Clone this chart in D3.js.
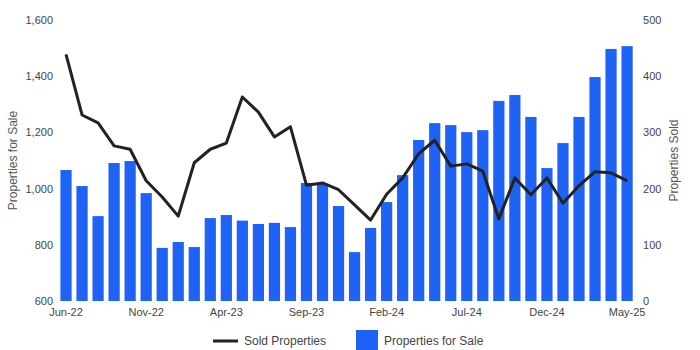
<!DOCTYPE html>
<html>
<head>
<meta charset="utf-8">
<script src="https://cdn.jsdelivr.net/npm/d3@7"></script>
<style>
  html, body { margin: 0; padding: 0; background: #fff; }
  svg { display: block; font-family: "Liberation Sans", Arial, sans-serif; }
</style>
</head>
<body>
<svg id="chart" width="700" height="350"></svg>
<script>
// Monthly listings vs. sales, Jun-22 to May-25
const months = [
  "Jun-22","Jul-22","Aug-22","Sep-22","Oct-22","Nov-22","Dec-22","Jan-23","Feb-23","Mar-23",
  "Apr-23","May-23","Jun-23","Jul-23","Aug-23","Sep-23","Oct-23","Nov-23","Dec-23","Jan-24",
  "Feb-24","Mar-24","Apr-24","May-24","Jun-24","Jul-24","Aug-24","Sep-24","Oct-24","Nov-24",
  "Dec-24","Jan-25","Feb-25","Mar-25","Apr-25","May-25"
];
const propertiesForSale = [
  1066, 1009, 902, 1091, 1098, 984, 789, 810, 792, 895,
  906, 886, 874, 878, 863, 1020, 1016, 938, 774, 860,
  952, 1048, 1173, 1233, 1226, 1201, 1208, 1312, 1333, 1255,
  1073, 1162, 1255, 1397, 1497, 1507
];
const soldProperties = [
  439, 331, 317, 276, 270, 214, 185, 151, 246, 270,
  281, 363, 336, 292, 310, 206, 210, 198, 171, 144,
  190, 219, 262, 286, 240, 244, 231, 146, 219, 189,
  219, 174, 205, 230, 228, 214
];
const xTickLabels = ["Jun-22","Nov-22","Apr-23","Sep-23","Feb-24","Jul-24","Dec-24","May-25"];
const leftTicks = [600, 800, 1000, 1200, 1400, 1600];
const rightTicks = [0, 100, 200, 300, 400, 500];

const barColor = "#1f63f6";
const lineColor = "#222222";
const textColor = "#444444";

const svg = d3.select("#chart");
const plotTop = 20, plotBottom = 301, plotLeft = 58, plotRight = 635.1;

const x = d3.scaleBand().domain(months).range([plotLeft, plotRight]).paddingInner(0.3).paddingOuter(0.15);
const yL = d3.scaleLinear().domain([600, 1600]).range([plotBottom, plotTop]);
const yR = d3.scaleLinear().domain([0, 500]).range([plotBottom, plotTop]);

// bars
svg.append("g").selectAll("rect")
  .data(months)
  .join("rect")
  .attr("x", d => x(d))
  .attr("width", x.bandwidth())
  .attr("y", (d, i) => yL(propertiesForSale[i]))
  .attr("height", (d, i) => yL(600) - yL(propertiesForSale[i]))
  .attr("fill", barColor);

// sold line
const line = d3.line()
  .x((d, i) => x(months[i]) + x.bandwidth() / 2)
  .y(d => yR(d));
svg.append("path")
  .datum(soldProperties)
  .attr("d", line)
  .attr("fill", "none")
  .attr("stroke", lineColor)
  .attr("stroke-width", 3)
  .attr("stroke-linejoin", "round");

function styleAxis(g) {
  g.select(".domain").remove();
  g.selectAll(".tick line").remove();
  g.selectAll("text").attr("fill", textColor).style("font-size", "11px")
    .style("font-family", "'Liberation Sans', Arial, sans-serif");
}

svg.append("g")
  .attr("transform", `translate(${plotLeft - 5},0)`)
  .call(d3.axisLeft(yL).tickValues(leftTicks).tickFormat(d3.format(",")).tickSize(0).tickPadding(0))
  .call(styleAxis);

svg.append("g")
  .attr("transform", `translate(${plotRight + 8},0)`)
  .call(d3.axisRight(yR).tickValues(rightTicks).tickSize(0).tickPadding(0))
  .call(styleAxis);

svg.append("g")
  .attr("transform", `translate(0,${plotBottom + 3})`)
  .call(d3.axisBottom(x).tickValues(xTickLabels).tickSize(0).tickPadding(4))
  .call(styleAxis);

// axis titles
svg.append("text")
  .attr("transform", `translate(17,${(plotTop + plotBottom) / 2}) rotate(-90)`)
  .attr("text-anchor", "middle")
  .attr("fill", "#555")
  .style("font-size", "12px")
  .text("Properties for Sale");

svg.append("text")
  .attr("transform", `translate(678,${(plotTop + plotBottom) / 2}) rotate(-90)`)
  .attr("text-anchor", "middle")
  .attr("fill", "#555")
  .style("font-size", "12px")
  .text("Properties Sold");

// legend
const lg = svg.append("g");
lg.append("line").attr("x1", 213).attr("x2", 238).attr("y1", 341).attr("y2", 341)
  .attr("stroke", lineColor).attr("stroke-width", 3);
lg.append("text").attr("x", 244).attr("y", 345).attr("fill", textColor)
  .style("font-size", "12px").text("Sold Properties");
lg.append("rect").attr("x", 356).attr("y", 330).attr("width", 22).attr("height", 20).attr("fill", barColor);
lg.append("text").attr("x", 384).attr("y", 345).attr("fill", textColor)
  .style("font-size", "12px").text("Properties for Sale");
</script>
</body>
</html>
